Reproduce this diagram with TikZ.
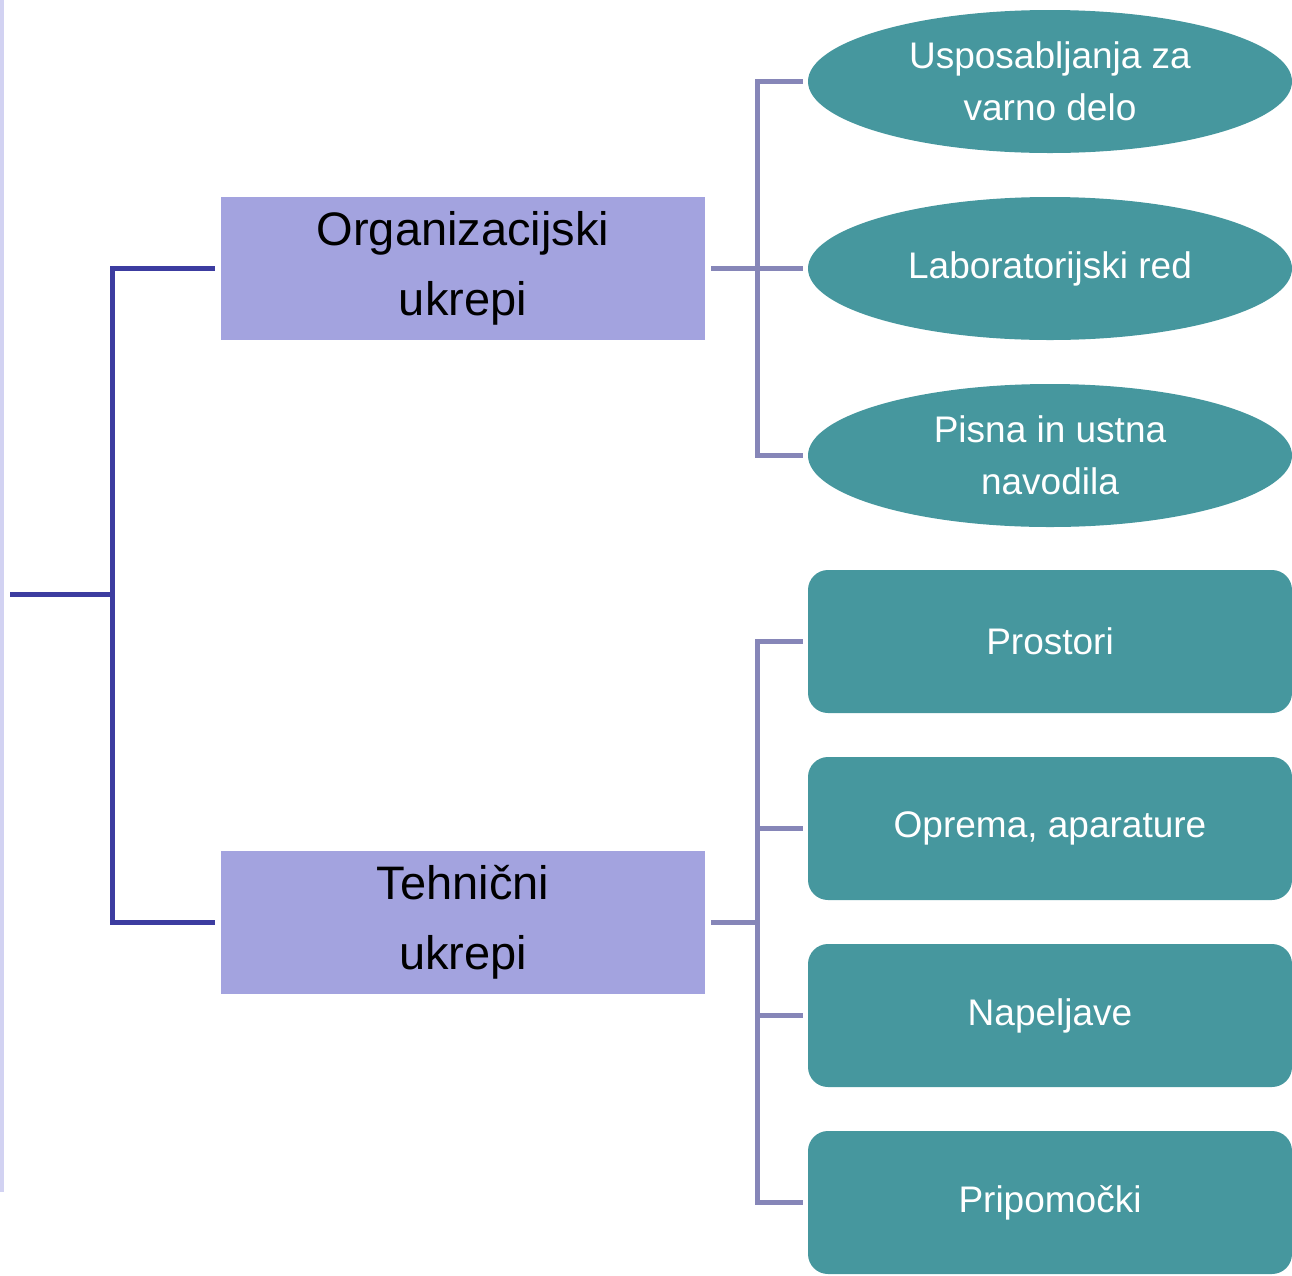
\documentclass[tikz,border=0pt]{standalone}
\usepackage{fontspec}
\setmainfont{Liberation Sans}
\usetikzlibrary{shapes.geometric}
\definecolor{darkline}{HTML}{3C3CA0}
\definecolor{lightline}{HTML}{8686B8}
\definecolor{boxfill}{HTML}{A3A3DF}
\definecolor{tealfill}{HTML}{46979E}
\definecolor{barfill}{HTML}{D2D2F2}
\begin{document}
\begin{tikzpicture}[x=1pt,y=-1pt,
  mainbox/.style={rectangle, fill=boxfill, minimum width=484pt, minimum height=143pt, inner sep=0pt, align=center, font=\fontsize{47}{70}\selectfont, text=black},
  leafell/.style={ellipse, fill=tealfill, minimum width=484pt, minimum height=143pt, inner sep=0pt, align=center, font=\fontsize{37}{52}\selectfont, text=white},
  leafrect/.style={rectangle, rounded corners=20pt, fill=tealfill, minimum width=484pt, minimum height=143pt, inner sep=0pt, align=center, font=\fontsize{37}{52}\selectfont, text=white},
  dline/.style={draw=darkline, line width=5pt},
  lline/.style={draw=lightline, line width=5pt}]
\useasboundingbox (0,0) rectangle (1292,1275);
\fill[barfill] (0,0) rectangle (4,1192);

\node[mainbox] (org) at (463,268.5) {Organizacijski\\ukrepi};
\node[mainbox] (teh) at (463,922) {Tehnični\\ukrepi};

\node[leafell] (e1) at (1050,81.5) {Usposabljanja za\\varno delo};
\node[leafell] (e2) at (1050,268.5) {Laboratorijski red};
\node[leafell] (e3) at (1050,455.5) {Pisna in ustna\\navodila};

\node[leafrect] (r1) at (1050,641.5) {Prostori};
\node[leafrect] (r2) at (1050,828.5) {Oprema, aparature};
\node[leafrect] (r3) at (1050,1015.5) {Napeljave};
\node[leafrect] (r4) at (1050,1202.5) {Pripomočki};

% root connectors
\coordinate (root) at (10,594);
\coordinate (rbus) at (112,594);
\draw[dline] (root) -- (rbus);
\draw[dline, shorten >=6pt] (org.west -| rbus) -- (org.west);
\draw[dline, shorten >=6pt] (teh.west -| rbus) -- (teh.west);
\draw[dline, line cap=rect] (org.west -| rbus) -- (teh.west -| rbus);

% upper group
\coordinate (ubus) at (757,268.5);
\draw[lline, shorten <=6pt] (org.east) -- (ubus);
\draw[lline, line cap=rect] (e1.west -| ubus) -- (e3.west -| ubus);
\foreach \n in {e1,e2,e3}
  \draw[lline, shorten >=5pt] (\n.west -| ubus) -- (\n.west);

% lower group
\coordinate (lbus) at (757,922);
\draw[lline, shorten <=6pt] (teh.east) -- (lbus);
\draw[lline, line cap=rect] (r1.west -| lbus) -- (r4.west -| lbus);
\foreach \n in {r1,r2,r3,r4}
  \draw[lline, shorten >=5pt] (\n.west -| lbus) -- (\n.west);
\end{tikzpicture}
\end{document}
